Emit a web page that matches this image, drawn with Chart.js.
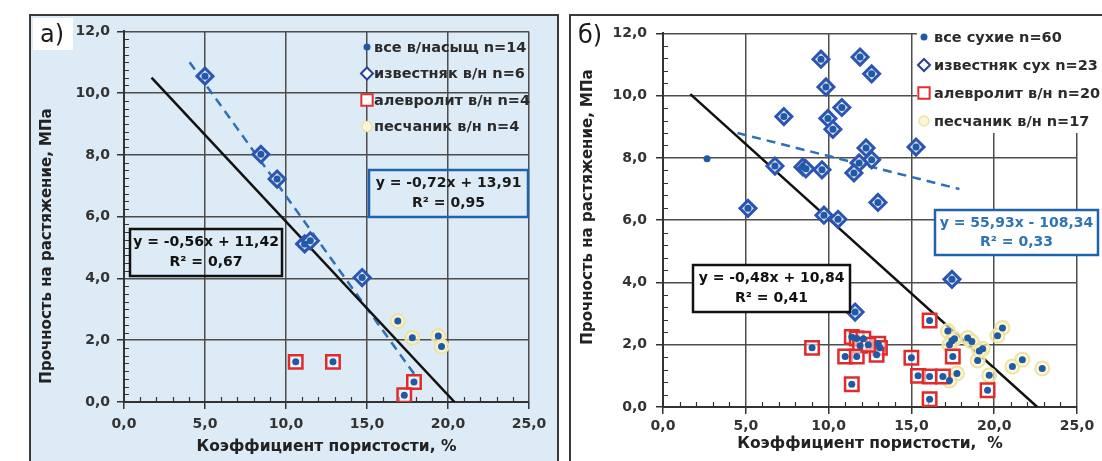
<!DOCTYPE html>
<html>
<head>
<meta charset="utf-8">
<title>Прочность на растяжение</title>
<script src="https://cdn.jsdelivr.net/npm/chart.js@4.4.1/dist/chart.umd.min.js"></script>
<style>
  body { margin: 0; width: 1102px; height: 461px; overflow: hidden; position: relative; background: #fff; }
  .panel { position: absolute; top: 14px; height: 460px; border: 2px solid #3a3a3a; border-bottom: none; }
  #panelA { left: 29px; width: 526px; background: #dcebf5; }
  #panelB { left: 569px; width: 540px; background: #fff; }
  .panel canvas { position: absolute; left: 0; top: 0; }
</style>
</head>
<body>
<div class="panel" id="panelA"><canvas id="chartA" width="526" height="445"></canvas></div>
<div class="panel" id="panelB"><canvas id="chartB" width="531" height="445"></canvas></div>
<script>
// ---- panel а) water-saturated samples
const limeAx = [5.0, 8.45, 9.45, 11.15, 11.5, 14.7];
const limeAy = [10.55, 8.02, 7.22, 5.12, 5.22, 4.03];
const siltAx = [10.6, 12.9, 17.9, 17.3];
const siltAy = [1.3, 1.3, 0.65, 0.22];
const sandAx = [16.9, 17.8, 19.4, 19.6];
const sandAy = [2.62, 2.08, 2.14, 1.8];
const trendAllAx = [1.7, 20.4];
const trendAllAy = [10.5, 0.0];
const trendLimeAx = [4.05, 18.1];
const trendLimeAy = [11.0, 0.77];

// ---- panel б) dry samples
const limeBx = [9.54, 11.9, 12.6, 9.84, 10.8, 7.3, 9.96, 10.26, 12.26, 15.28, 12.6, 11.84,
                11.53, 6.76, 8.45, 8.63, 9.6, 5.13, 12.98, 9.72, 10.57, 11.6, 17.45];
const limeBy = [11.17, 11.24, 10.7, 10.28, 9.62, 9.33, 9.27, 8.92, 8.32, 8.35, 7.94, 7.84,
                7.52, 7.74, 7.71, 7.65, 7.62, 6.38, 6.57, 6.16, 6.03, 3.05, 4.1];
const siltBx = [9.0, 11.4, 11.7, 12.1, 11.9, 13.0, 13.1, 12.9, 11.0, 11.7,
                11.4, 15.0, 16.1, 17.5, 15.4, 16.1, 16.9, 16.1, 19.6, 12.4];
const siltBy = [1.9, 2.25, 2.2, 2.19, 1.97, 2.03, 1.9, 1.68, 1.62, 1.62,
                0.73, 1.58, 2.78, 1.62, 1.0, 0.98, 0.98, 0.25, 0.54, 2.0];
const sandBx = [17.2, 17.45, 17.6, 18.4, 18.65, 19.3, 19.0, 20.5, 20.2, 21.1, 21.7, 22.9,
                17.75, 19.7, 17.3, 19.1, 17.3];
const sandBy = [2.44, 2.13, 2.19, 2.22, 2.1, 1.87, 1.49, 2.54, 2.29, 1.3, 1.52, 1.24,
                1.08, 1.02, 0.85, 1.8, 2.0];
const otherBx = [2.66];
const otherBy = [7.97];
const trendAllBx = [1.65, 22.6];
const trendAllBy = [10.05, 0.0];
const trendLimeBx = [4.5, 17.9];
const trendLimeBy = [8.8, 7.0];

const FONT = 'DejaVu Sans';
const fmt = v => Number(v).toFixed(1).replace('.', ',');
const pts = (xs, ys) => xs.map((x, i) => ({ x: x, y: ys[i] }));

const styles = {
  all:  { pointStyle: 'circle', radius: 3.5, bg: '#1f5aa6', border: '#1f5aa6', bw: 0 },
  lime: { pointStyle: 'rectRot', radius: 8, bg: '#d3e3f6', border: '#2d55b0', bw: 3 },
  silt: { pointStyle: 'rect', radius: 9.5, bg: 'rgba(255,255,255,0.55)', border: '#e02b2b', bw: 2.5 },
  sand: { pointStyle: 'circle', radius: 7, bg: 'rgba(250,246,205,0.65)', border: '#eee3a0', bw: 2 }
};
const legendStyles = {
  all:  { pointStyle: 'circle', radius: 3.5, bg: '#1f5aa6', border: '#1f5aa6', bw: 0 },
  lime: { pointStyle: 'rectRot', radius: 6, bg: '#fff', border: '#2a3f9a', bw: 2 },
  silt: { pointStyle: 'rect', radius: 8, bg: '#fff', border: '#e0302f', bw: 2 },
  sand: { pointStyle: 'circle', radius: 5, bg: '#fbf6d8', border: '#efe4a0', bw: 1.5 }
};

function scatterSet(label, data, s) {
  return {
    label: label, data: data,
    pointStyle: s.pointStyle, pointRadius: s.radius, pointHoverRadius: s.radius,
    backgroundColor: s.bg, borderColor: s.border, borderWidth: s.bw
  };
}
function lineSet(label, data, color, dash) {
  return {
    label: label, data: data, showLine: true, pointRadius: 0,
    borderColor: color, borderWidth: 2.5, borderDash: dash || []
  };
}

function decor(cfg) {
  return {
    id: 'decor',
    beforeDatasetsDraw(chart) {
      const { ctx, chartArea: a, scales: { x, y } } = chart;
      ctx.save();
      ctx.strokeStyle = '#333';
      ctx.lineWidth = 1.2;
      ctx.beginPath();
      for (let i = 1; i * cfg.minorY < 12 - 1e-6; i++) {
        const v = i * cfg.minorY;
        if (Math.abs(v / 2 - Math.round(v / 2)) < 1e-6) continue;
        const py = Math.round(y.getPixelForValue(v)) + 0.5;
        ctx.moveTo(a.left, py); ctx.lineTo(a.left + 5, py);
      }
      for (let v = 1; v < 25; v++) {
        if (v % 5 === 0) continue;
        const px = Math.round(x.getPixelForValue(v)) + 0.5;
        ctx.moveTo(px, a.bottom); ctx.lineTo(px, a.bottom - 5);
      }
      ctx.stroke();
      ctx.restore();
    },
    afterDraw(chart) {
      const ctx = chart.ctx;
      ctx.save();
      // legend
      const lg = cfg.legend;
      if (lg.fill) { ctx.fillStyle = lg.fill; ctx.fillRect(lg.box[0], lg.box[1], lg.box[2], lg.box[3]); }
      ctx.font = 'bold 14.5px "' + FONT + '"';
      ctx.textBaseline = 'middle';
      ctx.textAlign = 'left';
      lg.items.forEach((it, i) => {
        const yy = lg.y0 + i * lg.dy;
        const s = it.style;
        ctx.fillStyle = s.bg; ctx.strokeStyle = s.border; ctx.lineWidth = s.bw;
        Chart.helpers.drawPoint(ctx, { pointStyle: s.pointStyle, radius: s.radius, rotation: 0, borderWidth: s.bw }, lg.mx, yy);
        ctx.fillStyle = '#2b2b2b';
        ctx.fillText(it.text, lg.tx, yy + 1);
      });
      // equation boxes
      cfg.boxes.forEach(b => {
        if (b.fill) { ctx.fillStyle = b.fill; ctx.fillRect(b.x, b.y, b.w, b.h); }
        ctx.strokeStyle = b.border; ctx.lineWidth = 2.5;
        ctx.strokeRect(b.x, b.y, b.w, b.h);
        ctx.fillStyle = b.color;
        ctx.font = 'bold 14px "' + FONT + '"';
        ctx.textAlign = 'center';
        ctx.fillText(b.lines[0], b.x + b.w / 2, b.y + b.h * 0.29);
        ctx.fillText(b.lines[1], b.x + b.w / 2, b.y + b.h * 0.72);
      });
      // panel letter
      const p = cfg.letter;
      if (p.fill) { ctx.fillStyle = p.fill; ctx.fillRect(p.box[0], p.box[1], p.box[2], p.box[3]); }
      ctx.fillStyle = '#1a1a1a';
      ctx.font = '24px "' + FONT + '"';
      ctx.textAlign = 'center';
      ctx.fillText(p.text, p.x, p.y);
      // y axis title
      ctx.translate(cfg.yTitle.x, cfg.yTitle.y);
      ctx.rotate(-Math.PI / 2);
      ctx.font = 'bold 15px "' + FONT + '"';
      ctx.fillStyle = '#222';
      ctx.fillText('Прочность на растяжение, МПа', 0, 0);
      ctx.restore();
    }
  };
}

function makeChart(id, datasets, geo, cfg) {
  return new Chart(document.getElementById(id), {
    type: 'scatter',
    data: { datasets: datasets },
    options: {
      responsive: false,
      animation: false,
      layout: { padding: { left: 0, top: geo.top, right: geo.right, bottom: 0 } },
      plugins: { legend: { display: false }, tooltip: { enabled: false } },
      scales: {
        x: {
          type: 'linear', min: 0, max: 25,
          ticks: { stepSize: 5, callback: fmt, color: '#333', padding: geo.xPad, maxRotation: 0,
                   font: { family: FONT, weight: 'bold', size: 14 } },
          grid: { color: '#4d4d4d', lineWidth: 1.5, tickLength: 7, tickColor: '#333' },
          border: { color: '#333', width: 2 },
          title: { display: true, text: geo.xTitle, color: '#222',
                   font: { family: FONT, weight: 'bold', size: 15.5 }, padding: { top: 0, bottom: geo.titlePad } },
          afterFit: s => { s.height = geo.xHeight; }
        },
        y: {
          type: 'linear', min: 0, max: 12,
          ticks: { stepSize: 2, callback: fmt, color: '#333', padding: geo.yPad,
                   font: { family: FONT, weight: 'bold', size: 14 } },
          grid: { color: '#4d4d4d', lineWidth: 1.5, tickLength: 7, tickColor: '#333' },
          border: { color: '#333', width: 2 },
          afterFit: s => { s.width = geo.yWidth; }
        }
      }
    },
    plugins: [decor(cfg)]
  });
}

// ---- chart а)
const allA = pts(limeAx.concat(siltAx, sandAx), limeAy.concat(siltAy, sandAy));
makeChart('chartA', [
  scatterSet('все в/насыщ n=14', allA, styles.all),
  scatterSet('известняк в/н n=6', pts(limeAx, limeAy), styles.lime),
  scatterSet('алевролит в/н n=4', pts(siltAx, siltAy), styles.silt),
  scatterSet('песчаник в/н n=4', pts(sandAx, sandAy), styles.sand),
  lineSet('все', pts(trendAllAx, trendAllAy), '#111'),
  lineSet('известняк', pts(trendLimeAx, trendLimeAy), '#2f6fb5', [9, 6])
], { top: 13, right: 28, xHeight: 59, yWidth: 93, xPad: 7, yPad: 7, titlePad: 5,
     xTitle: 'Коэффициент пористости, %' }, {
  minorY: 0.25,
  legend: {
    mx: 336, tx: 343, y0: 31, dy: 26.5, fill: null,
    items: [
      { text: 'все в/насыщ n=14', style: legendStyles.all },
      { text: 'известняк в/н n=6', style: legendStyles.lime },
      { text: 'алевролит в/н n=4', style: legendStyles.silt },
      { text: 'песчаник в/н n=4', style: legendStyles.sand }
    ]
  },
  boxes: [
    { x: 99, y: 213, w: 152, h: 47, border: '#111', color: '#111', fill: null,
      lines: ['y = -0,56x + 11,42', 'R² = 0,67'] },
    { x: 338, y: 154, w: 159, h: 47, border: '#1f63ad', color: '#1a1a1a', fill: null,
      lines: ['y = -0,72x + 13,91', 'R² = 0,95'] }
  ],
  letter: { text: 'а)', x: 21, y: 20, fill: '#fff', box: [2, 2, 40, 32] },
  yTitle: { x: 16, y: 230 }
});

// ---- chart б)
const allB = pts(limeBx.concat(siltBx, sandBx, otherBx), limeBy.concat(siltBy, sandBy, otherBy));
makeChart('chartB', [
  scatterSet('все сухие n=60', allB, styles.all),
  scatterSet('известняк сух n=23', pts(limeBx, limeBy), styles.lime),
  scatterSet('алевролит в/н n=20', pts(siltBx, siltBy), styles.silt),
  scatterSet('песчаник в/н n=17', pts(sandBx, sandBy), styles.sand),
  lineSet('все', pts(trendAllBx, trendAllBy), '#111'),
  lineSet('известняк', pts(trendLimeBx, trendLimeBy), '#2f6fb5', [9, 6])
], { top: 13, right: 25, xHeight: 54, yWidth: 92, xPad: 4, yPad: 9, titlePad: 8,
     xTitle: 'Коэффициент пористости,  %' }, {
  minorY: 0.4,
  legend: {
    mx: 353, tx: 363, y0: 21, dy: 28, fill: '#fff', box: [346, 0, 185, 117],
    items: [
      { text: 'все сухие n=60', style: legendStyles.all },
      { text: 'известняк сух n=23', style: legendStyles.lime },
      { text: 'алевролит в/н n=20', style: legendStyles.silt },
      { text: 'песчаник в/н n=17', style: legendStyles.sand }
    ]
  },
  boxes: [
    { x: 122, y: 249, w: 157, h: 47, border: '#111', color: '#111', fill: '#fff',
      lines: ['y = -0,48x + 10,84', 'R² = 0,41'] },
    { x: 364, y: 194, w: 163, h: 45, border: '#1f63ad', color: '#2e74b5', fill: '#fff',
      lines: ['y = 55,93x - 108,34', 'R² = 0,33'] }
  ],
  letter: { text: 'б)', x: 19, y: 21, fill: null },
  yTitle: { x: 17, y: 191 }
});
</script>
</body>
</html>
